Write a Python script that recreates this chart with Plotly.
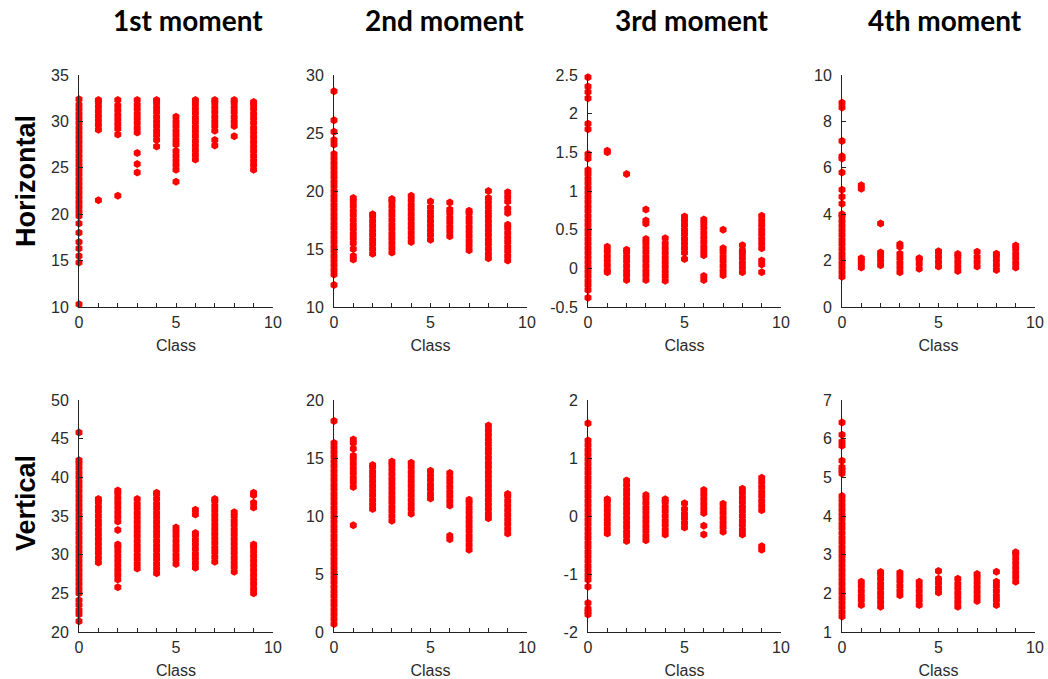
import plotly.graph_objects as go

CLASSES = list(range(10))

COL_TITLES = ["1st moment", "2nd moment", "3rd moment", "4th moment"]
ROW_TITLES = ["Horizontal", "Vertical"]
X_TICKVALS = list(range(11))
X_TICKTEXT = ["0", "", "", "", "", "5", "", "", "", "", "10"]

# ---- Horizontal, 1st moment ----
H1 = [
    [10.3, 14.8, 15.5, 16.3, 17.0, 18.0, 19.0, 19.8, 20.3, 20.8, 21.3, 21.8, 22.3, 22.8, 23.3, 23.8, 24.3,
     24.8, 25.3, 25.8, 26.3, 26.8, 27.3, 27.8, 28.3, 28.8, 29.3, 29.8, 30.3, 30.8, 31.3, 31.8, 32.4],
    [21.5, 29.1, 29.6, 30.1, 30.6, 31.1, 31.6, 32.1, 32.3],
    [22.0, 28.6, 29.2, 29.7, 30.2, 30.7, 31.2, 31.7, 32.3],
    [24.5, 25.4, 26.6, 28.8, 29.3, 29.8, 30.3, 30.8, 31.3, 31.8, 32.3],
    [27.3, 28.0, 28.5, 29.0, 29.5, 30.0, 30.5, 31.0, 31.5, 32.0, 32.3],
    [23.5, 24.8, 25.3, 25.8, 26.3, 26.8, 27.5, 28.0, 28.5, 29.0, 29.5, 30.0, 30.5],
    [25.9, 26.4, 26.9, 27.4, 27.9, 28.4, 28.9, 29.4, 29.9, 30.4, 30.9, 31.4, 31.9, 32.3],
    [27.4, 28.0, 29.0, 29.5, 30.0, 30.5, 31.0, 31.5, 32.0, 32.3],
    [28.4, 29.5, 30.0, 30.5, 31.0, 31.5, 32.0, 32.3],
    [24.8, 25.3, 25.8, 26.3, 26.8, 27.3, 27.8, 28.3, 28.8, 29.3, 29.8, 30.3, 30.8, 31.3, 31.8, 32.1],
]

# ---- Horizontal, 2nd moment ----
H2 = [
    [11.9, 12.8, 13.2, 13.6, 14.0, 14.4, 14.8, 15.2, 15.6, 16.0, 16.4, 16.8, 17.2, 17.6, 18.0, 18.4, 18.8,
     19.2, 19.6, 20.0, 20.4, 20.8, 21.2, 21.6, 22.0, 22.4, 22.8, 23.2, 24.0, 24.4, 25.1, 26.1, 28.6],
    [14.1, 14.4, 15.0, 15.5, 15.9, 16.3, 16.7, 17.1, 17.5, 17.9, 18.3, 18.7, 19.1, 19.4],
    [14.6, 15.0, 15.4, 15.8, 16.2, 16.6, 17.0, 17.4, 17.8, 18.0],
    [14.7, 15.1, 15.5, 15.9, 16.3, 16.7, 17.1, 17.5, 17.9, 18.3, 18.7, 19.1, 19.3],
    [15.6, 16.0, 16.4, 16.8, 17.2, 17.6, 18.0, 18.4, 18.8, 19.2, 19.6],
    [15.8, 16.2, 16.6, 17.0, 17.4, 17.8, 18.2, 18.6, 19.1],
    [16.1, 16.5, 16.9, 17.3, 17.7, 18.1, 18.4, 19.0],
    [14.9, 15.3, 15.7, 16.1, 16.5, 16.9, 17.3, 17.7, 18.1, 18.3],
    [14.2, 14.6, 15.0, 15.4, 15.8, 16.2, 16.6, 17.0, 17.4, 17.8, 18.2, 18.6, 19.0, 19.4, 20.0],
    [14.0, 14.4, 14.8, 15.2, 15.6, 16.0, 16.4, 16.8, 17.1, 18.1, 18.5, 19.1, 19.5, 19.9],
]

# ---- Horizontal, 3rd moment ----
H3 = [
    [-0.38, -0.28, -0.22, -0.16, -0.10, -0.04, 0.02, 0.08, 0.14, 0.20, 0.26, 0.32, 0.38, 0.44, 0.50, 0.56,
     0.62, 0.68, 0.74, 0.80, 0.86, 0.92, 0.98, 1.04, 1.10, 1.16, 1.22, 1.27, 1.42, 1.48, 1.80, 1.87, 2.20,
     2.28, 2.35, 2.47],
    [-0.05, -0.02, 0.04, 0.10, 0.16, 0.22, 0.28, 1.50, 1.52],
    [-0.15, -0.09, -0.03, 0.03, 0.09, 0.15, 0.21, 0.24, 1.22],
    [-0.15, -0.09, -0.03, 0.03, 0.09, 0.15, 0.21, 0.27, 0.33, 0.38, 0.58, 0.62, 0.76],
    [-0.16, -0.10, -0.04, 0.02, 0.08, 0.14, 0.20, 0.26, 0.32, 0.39],
    [0.12, 0.20, 0.26, 0.32, 0.38, 0.44, 0.50, 0.56, 0.62, 0.67],
    [-0.15, -0.10, 0.17, 0.22, 0.28, 0.34, 0.40, 0.46, 0.52, 0.58, 0.63],
    [-0.09, -0.03, 0.03, 0.09, 0.15, 0.21, 0.26, 0.50],
    [-0.05, 0.01, 0.07, 0.13, 0.19, 0.23, 0.30],
    [-0.05, 0.05, 0.10, 0.26, 0.32, 0.38, 0.44, 0.50, 0.56, 0.62, 0.68],
]

# ---- Horizontal, 4th moment ----
H4 = [
    [1.3, 1.5, 1.7, 1.9, 2.1, 2.3, 2.5, 2.7, 2.9, 3.1, 3.3, 3.5, 3.7, 3.9, 4.0, 4.45, 4.75, 5.05, 5.8,
     6.4, 6.5, 7.15, 8.6, 8.8],
    [1.7, 1.85, 2.0, 2.1, 5.1, 5.25],
    [1.8, 2.0, 2.2, 2.35, 3.6],
    [1.5, 1.7, 1.9, 2.1, 2.3, 2.6, 2.7],
    [1.65, 1.85, 2.05, 2.1],
    [1.75, 1.95, 2.15, 2.35, 2.4],
    [1.55, 1.75, 1.95, 2.15, 2.28],
    [1.75, 1.95, 2.15, 2.38],
    [1.6, 1.8, 2.0, 2.2, 2.3],
    [1.7, 1.9, 2.1, 2.3, 2.5, 2.65],
]

# ---- Vertical, 1st moment ----
V1 = [
    [21.4, 22.3, 22.8, 23.5, 24.1, 25.0, 25.6, 26.2, 26.8, 27.4, 28.0, 28.6, 29.2, 29.8, 30.4, 31.0, 31.6,
     32.2, 32.8, 33.4, 34.0, 34.6, 35.2, 35.8, 36.4, 37.0, 37.6, 38.2, 38.8, 39.4, 40.0, 40.6, 41.2, 41.8,
     42.2, 45.8],
    [29.0, 29.6, 30.2, 30.8, 31.4, 32.0, 32.6, 33.2, 33.8, 34.4, 35.0, 35.6, 36.2, 36.8, 37.2],
    [25.8, 26.8, 27.4, 28.0, 28.6, 29.2, 29.8, 30.4, 31.0, 31.3, 33.2, 34.3, 34.9, 35.5, 36.1, 36.7, 37.3,
     37.9, 38.3],
    [28.2, 28.8, 29.4, 30.0, 30.6, 31.2, 31.8, 32.4, 33.0, 33.6, 34.2, 34.8, 35.4, 36.0, 36.6, 37.2],
    [27.6, 28.2, 28.8, 29.4, 30.0, 30.6, 31.2, 31.8, 32.4, 33.0, 33.6, 34.2, 34.8, 35.4, 36.0, 36.6, 37.2,
     37.8, 38.0],
    [28.8, 29.4, 30.0, 30.6, 31.2, 31.8, 32.4, 33.0, 33.5],
    [28.3, 28.9, 29.5, 30.1, 30.7, 31.3, 31.9, 32.5, 32.8, 35.2, 35.8],
    [29.1, 29.7, 30.3, 30.9, 31.5, 32.1, 32.7, 33.3, 33.9, 34.5, 35.1, 35.7, 36.3, 36.9, 37.2],
    [27.8, 28.4, 29.0, 29.6, 30.2, 30.8, 31.4, 32.0, 32.6, 33.2, 33.8, 34.4, 35.0, 35.5],
    [25.0, 25.6, 26.2, 26.8, 27.4, 28.0, 28.6, 29.2, 29.8, 30.4, 31.0, 31.3, 36.1, 36.7, 37.7, 38.0],
]

# ---- Vertical, 2nd moment ----
V2 = [
    [0.7, 1.1, 1.5, 1.9, 2.3, 2.7, 3.1, 3.5, 3.9, 4.3, 4.7, 5.1, 5.5, 5.9, 6.3, 6.7, 7.1, 7.5, 7.9, 8.3,
     8.7, 9.1, 9.5, 9.9, 10.3, 10.7, 11.1, 11.5, 11.9, 12.3, 12.7, 13.1, 13.5, 13.9, 14.3, 14.7, 15.1, 15.5,
     15.9, 16.3, 18.2],
    [9.2, 12.5, 12.9, 13.3, 13.7, 14.1, 14.5, 14.9, 15.2, 15.8, 16.3, 16.6],
    [10.6, 11.0, 11.4, 11.8, 12.2, 12.6, 13.0, 13.4, 13.8, 14.2, 14.4],
    [9.6, 10.0, 10.4, 10.8, 11.2, 11.6, 12.0, 12.4, 12.8, 13.2, 13.6, 14.0, 14.4, 14.7],
    [10.2, 10.6, 11.0, 11.4, 11.8, 12.2, 12.6, 13.0, 13.4, 13.8, 14.2, 14.6],
    [11.5, 11.9, 12.3, 12.7, 13.1, 13.5, 13.9],
    [8.0, 8.3, 10.9, 11.3, 11.7, 12.1, 12.5, 12.9, 13.3, 13.7],
    [7.1, 7.5, 7.9, 8.3, 8.7, 9.1, 9.5, 9.9, 10.3, 10.7, 11.1, 11.4],
    [9.8, 10.2, 10.6, 11.0, 11.4, 11.8, 12.2, 12.6, 13.0, 13.4, 13.8, 14.2, 14.6, 15.0, 15.4, 15.8, 16.2,
     16.6, 17.0, 17.4, 17.8],
    [8.5, 8.9, 9.3, 9.7, 10.1, 10.5, 10.9, 11.3, 11.7, 11.9],
]

# ---- Vertical, 3rd moment ----
V3 = [
    [-1.70, -1.65, -1.60, -1.50, -1.22, -1.10, -1.02, -0.94, -0.86, -0.78, -0.70, -0.62, -0.54, -0.46,
     -0.38, -0.30, -0.22, -0.14, -0.06, 0.02, 0.10, 0.18, 0.26, 0.34, 0.42, 0.50, 0.58, 0.66, 0.74, 0.82,
     0.90, 0.98, 1.06, 1.14, 1.22, 1.30, 1.60],
    [-0.30, -0.22, -0.14, -0.06, 0.02, 0.10, 0.18, 0.26, 0.29],
    [-0.43, -0.35, -0.27, -0.19, -0.11, -0.03, 0.05, 0.13, 0.21, 0.29, 0.37, 0.45, 0.53, 0.61],
    [-0.42, -0.34, -0.26, -0.18, -0.10, -0.02, 0.06, 0.14, 0.22, 0.30, 0.36],
    [-0.32, -0.24, -0.16, -0.08, 0.00, 0.08, 0.16, 0.24, 0.29],
    [-0.20, -0.12, -0.04, 0.04, 0.12, 0.22],
    [-0.32, -0.17, 0.05, 0.13, 0.21, 0.29, 0.37, 0.45],
    [-0.27, -0.19, -0.11, -0.03, 0.05, 0.13, 0.21],
    [-0.32, -0.24, -0.16, -0.08, 0.00, 0.08, 0.16, 0.24, 0.32, 0.40, 0.47],
    [-0.58, -0.52, 0.10, 0.18, 0.26, 0.34, 0.42, 0.50, 0.58, 0.66],
]

# ---- Vertical, 4th moment ----
V4 = [
    [1.40, 1.52, 1.64, 1.76, 1.88, 2.00, 2.12, 2.24, 2.36, 2.48, 2.60, 2.72, 2.84, 2.96, 3.08, 3.20, 3.32,
     3.44, 3.56, 3.68, 3.80, 3.92, 4.04, 4.16, 4.28, 4.40, 4.52, 5.10, 5.18, 5.26, 5.43, 5.82, 5.92, 6.10,
     6.42],
    [1.70, 1.82, 1.94, 2.06, 2.18, 2.30],
    [1.65, 1.77, 1.89, 2.01, 2.13, 2.25, 2.37, 2.49, 2.55],
    [1.95, 2.07, 2.19, 2.31, 2.43, 2.53],
    [1.70, 1.82, 1.94, 2.06, 2.18, 2.30],
    [2.02, 2.14, 2.26, 2.38, 2.58],
    [1.65, 1.77, 1.89, 2.01, 2.13, 2.25, 2.38],
    [1.80, 1.92, 2.04, 2.16, 2.28, 2.40, 2.50],
    [1.70, 1.82, 1.94, 2.06, 2.18, 2.30, 2.56],
    [2.30, 2.42, 2.54, 2.66, 2.78, 2.90, 3.02, 3.06],
]

# y-axis ranges and ticks per panel
Y_RANGES = [[10, 35], [10, 30], [-0.5, 2.5], [0, 10],
            [20, 50], [0, 20], [-2, 2], [1, 7]]
Y_TICKS = [
    [10, 15, 20, 25, 30, 35],
    [10, 15, 20, 25, 30],
    [-0.5, 0, 0.5, 1, 1.5, 2, 2.5],
    [0, 2, 4, 6, 8, 10],
    [20, 25, 30, 35, 40, 45, 50],
    [0, 5, 10, 15, 20],
    [-2, -1, 0, 1, 2],
    [1, 2, 3, 4, 5, 6, 7],
]
Y_TICKTEXT = [
    ["10", "15", "20", "25", "30", "35"],
    ["10", "15", "20", "25", "30"],
    ["-0.5", "0", "0.5", "1", "1.5", "2", "2.5"],
    ["0", "2", "4", "6", "8", "10"],
    ["20", "25", "30", "35", "40", "45", "50"],
    ["0", "5", "10", "15", "20"],
    ["-2", "-1", "0", "1", "2"],
    ["1", "2", "3", "4", "5", "6", "7"],
]

PANELS = [H1, H2, H3, H4, V1, V2, V3, V4]

W, H = 1048, 679
# layout (pixels)
X_LEFT = [79, 334, 588, 842]
X_RIGHT = [273, 527, 781, 1035]
Y_TOP = [75, 400]
Y_BOT = [307, 632]

FONT_FAMILY = "Liberation Sans, Arial, sans-serif"
TICK_FONT = dict(family=FONT_FAMILY, size=16, color="#2a2a2a")

fig = go.Figure()
layout = dict(
    template="none",
    width=W, height=H, margin=dict(l=0, r=0, t=0, b=0, pad=0, autoexpand=False),
    paper_bgcolor="white", plot_bgcolor="white", showlegend=False,
)

for i, panel in enumerate(PANELS):
    r, c = divmod(i, 4)
    n = i + 1
    sfx = str(n) if n > 1 else ""
    xs, ys = [], []
    for cls, vals in zip(CLASSES, panel):
        xs.extend([cls] * len(vals))
        ys.extend(vals)
    fig.add_trace(go.Scatter(
        x=xs, y=ys, mode="markers",
        marker=dict(symbol="hexagon", size=8, color="#ff0000", line=dict(width=0)),
        cliponaxis=False, hoverinfo="skip",
        xaxis=f"x{sfx}", yaxis=f"y{sfx}",
    ))
    xa = dict(
        domain=[X_LEFT[c] / W, X_RIGHT[c] / W], range=[0, 10],
        anchor=f"y{sfx}", automargin=False,
        tickmode="array", tickvals=X_TICKVALS, ticktext=X_TICKTEXT,
        ticks="inside", ticklen=4, tickcolor="#222222", tickwidth=1,
        ticklabelstandoff=1,
        showline=True, linecolor="#222222", linewidth=1, mirror=False,
        showgrid=False, zeroline=False, tickfont=TICK_FONT,
        title=dict(text="Class", font=dict(family=FONT_FAMILY, size=16, color="#2a2a2a"),
                   standoff=9),
        fixedrange=True,
    )
    ya = dict(
        domain=[1 - Y_BOT[r] / H, 1 - Y_TOP[r] / H], range=Y_RANGES[i],
        anchor=f"x{sfx}", automargin=False,
        tickmode="array", tickvals=Y_TICKS[i], ticktext=Y_TICKTEXT[i],
        ticks="inside", ticklen=4, tickcolor="#222222", tickwidth=1,
        ticklabelstandoff=6,
        showline=True, linecolor="#222222", linewidth=1, mirror=False,
        showgrid=False, zeroline=False, tickfont=TICK_FONT,
        fixedrange=True,
    )
    layout[f"xaxis{sfx}"] = xa
    layout[f"yaxis{sfx}"] = ya

annotations = []
TITLE_X = [188, 444, 692, 945]
for t, cx in zip(COL_TITLES, TITLE_X):
    annotations.append(dict(
        text=f"<b>{t}</b>", x=cx / W, y=1 - 20 / H, xref="paper", yref="paper",
        xanchor="center", yanchor="middle", showarrow=False,
        font=dict(family="Lato, Open Sans, sans-serif", size=28, color="black"),
    ))
ROW_Y = [181, 503]
for t, cy in zip(ROW_TITLES, ROW_Y):
    annotations.append(dict(
        text=f"<b>{t}</b>", x=26 / W, y=1 - cy / H, xref="paper", yref="paper",
        xanchor="center", yanchor="middle", showarrow=False, textangle=-90,
        font=dict(family=FONT_FAMILY, size=27, color="black"),
    ))
layout["annotations"] = annotations

fig.update_layout(**layout)
fig.write_html("out.html")
